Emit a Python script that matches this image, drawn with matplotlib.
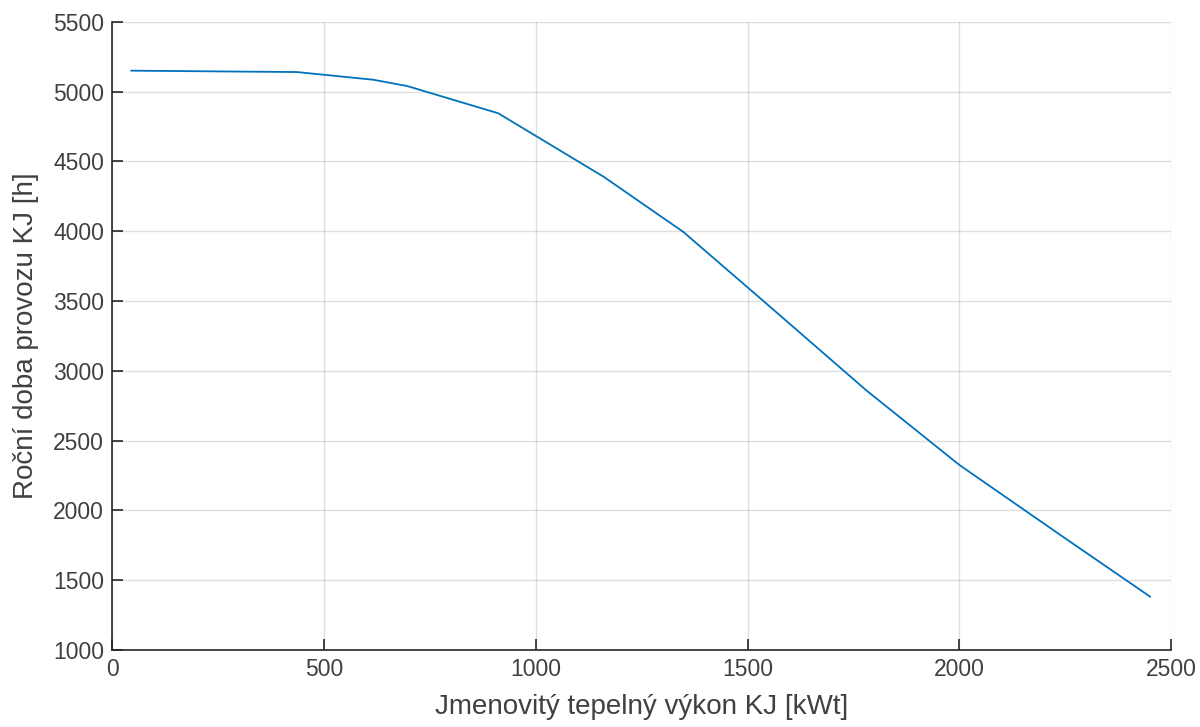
import matplotlib
matplotlib.use("Agg")
import matplotlib.pyplot as plt

# odečtené hodnoty z grafu
vykon = [45, 436, 616, 696, 911, 1160, 1348, 1560, 1780, 2000, 2240, 2450]
doba = [5150, 5140, 5085, 5040, 4845, 4390, 3995, 3440, 2860, 2325, 1820, 1382]

xticks = [0, 500, 1000, 1500, 2000, 2500]
yticks = [1000, 1500, 2000, 2500, 3000, 3500, 4000, 4500, 5000, 5500]

plt.rcParams['font.family'] = ['Liberation Sans', 'DejaVu Sans']
fig = plt.figure(figsize=(12, 7.27), dpi=100)
ax = fig.add_axes([0.0936, 0.106, 0.976 - 0.0936, 0.970 - 0.106])

ax.plot(vykon, doba, color='#0072BD', linewidth=1.3)

ax.set_xlim(0, 2500)
ax.set_ylim(1000, 5500)
ax.set_xticks(xticks)
ax.set_yticks(yticks)
ax.grid(True, color='#262626', alpha=0.15, linewidth=1)
ax.set_axisbelow(True)

for s in ['top', 'right']:
    ax.spines[s].set_visible(False)
for s in ['left', 'bottom']:
    ax.spines[s].set_color('#262626')
    ax.spines[s].set_linewidth(1.2)

ax.tick_params(direction='in', length=8, width=1.2, colors='#262626',
               labelsize=16.5, labelcolor='#404040', pad=6)

ax.set_xlabel('Jmenovitý tepelný výkon KJ [kWt]', fontsize=20, color='#404040', labelpad=9)
ax.set_ylabel('Roční doba provozu KJ [h]', fontsize=20, color='#404040', labelpad=10)

fig.savefig('out.png', dpi=100)
